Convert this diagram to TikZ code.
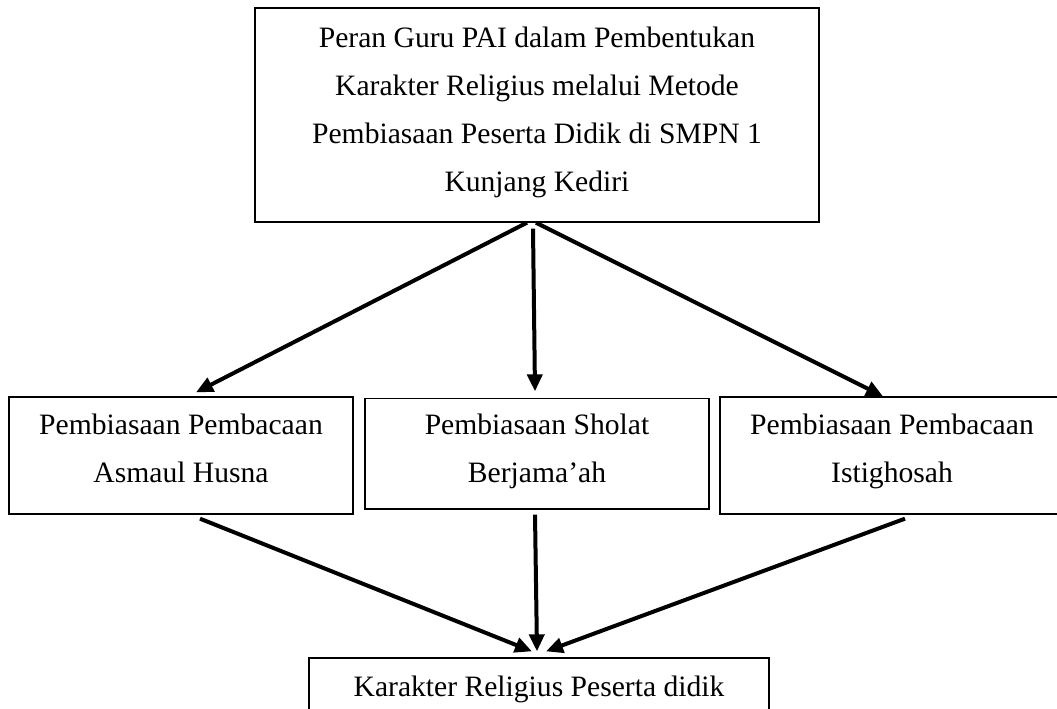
\documentclass[tikz,border=0pt]{standalone}
\usepackage{fontspec}
\setmainfont{Liberation Serif}
\usetikzlibrary{arrows.meta}
\begin{document}
\begin{tikzpicture}[x=1pt,y=-1pt,
  box/.style={draw=black, line width=1.3pt, inner sep=0pt, align=center,
    font=\fontsize{29.6pt}{48pt}\selectfont},
  arr/.style={line width=4pt, -{Triangle[length=17pt,width=15pt]}}]
\useasboundingbox (0,0) rectangle (1057,709);
\clip (0,0) rectangle (1057,709);
\fill[white] (0,0) rectangle (1057,709);
\node[box, minimum width=564pt, minimum height=214pt] (top) at (537,115)
  {\rule{0pt}{39pt}Peran Guru PAI dalam Pembentukan\\Karakter Religius melalui Metode\\Pembiasaan Peserta Didik di SMPN 1\\Kunjang Kediri\rule[-31pt]{0pt}{31pt}};
\node[box, minimum width=344pt, minimum height=117pt] (lft) at (181,455.5)
  {\rule{0pt}{37pt}Pembiasaan Pembacaan\\Asmaul Husna\rule[-32pt]{0pt}{32pt}};
\node[box, minimum width=344pt, minimum height=110.5pt] (mid) at (537,453.75)
  {\rule{0pt}{36pt}Pembiasaan Sholat\\Berjama’ah\rule[-26.5pt]{0pt}{26.5pt}};
\node[box, minimum width=344pt, minimum height=117pt] (rgt) at (892,455.5)
  {\rule{0pt}{37pt}Pembiasaan Pembacaan\\Istighosah\rule[-32pt]{0pt}{32pt}};
\node[box, minimum width=460pt, minimum height=78pt] (bot) at (539,697)
  {\rule{0pt}{38pt}Karakter Religius Peserta didik\rule[-40pt]{0pt}{40pt}};
\draw[arr] ([xshift=-10pt]top.south) -- ([xshift=15pt,yshift=4pt]lft.north);
\draw[arr] ([xshift=-4pt,yshift=-6pt]top.south) -- ([xshift=-2pt,yshift=6.5pt]mid.north);
\draw[arr] ([xshift=-1pt]top.south) -- ([xshift=-9pt]rgt.north);
\draw[arr] ([xshift=19pt,yshift=-4pt]lft.south) -- ([xshift=-7pt,yshift=6pt]bot.north);
\draw[arr] ([xshift=-2pt,yshift=-5pt]mid.south) -- ([xshift=-2pt,yshift=6pt]bot.north);
\draw[arr] ([xshift=13pt,yshift=-4pt]rgt.south) -- ([xshift=7pt,yshift=6pt]bot.north);
\end{tikzpicture}
\end{document}
